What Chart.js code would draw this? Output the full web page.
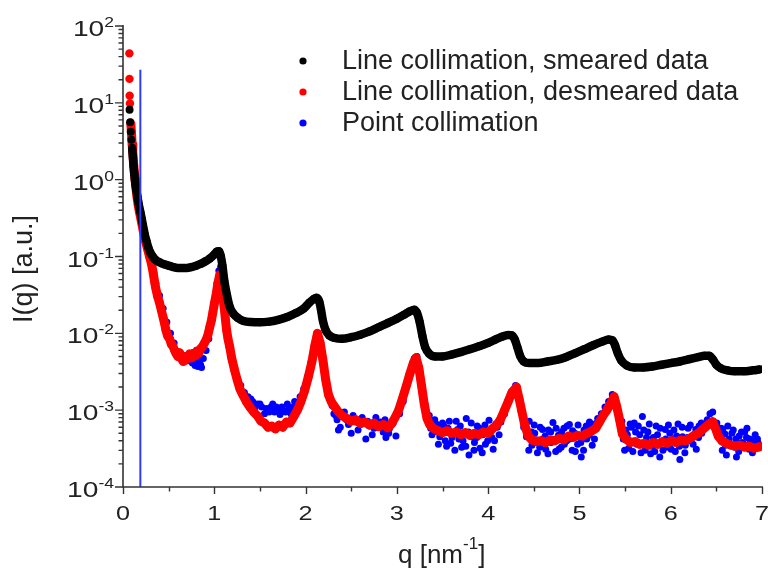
<!DOCTYPE html>
<html>
<head>
<meta charset="utf-8">
<title>SAXS collimation comparison</title>
<script src="https://cdn.jsdelivr.net/npm/chart.js@4.4.1/dist/chart.umd.min.js"></script>
<style>
  html, body { margin: 0; padding: 0; background: #fff; }
  canvas { display: block; }
</style>
</head>
<body>
<canvas id="saxs" width="768" height="575"></canvas>
<script>
// q [1/nm], I(q) [a.u.]
const smeared = [
  [0.072, 8.1], [0.078, 5.6], [0.085, 4.2], [0.092, 3.3], [0.100, 2.6], [0.108, 2.0],
  [0.116, 1.5], [0.125, 1.15], [0.135, 0.90], [0.147, 0.72], [0.160, 0.58], [0.175, 0.46],
  [0.19, 0.38], [0.205, 0.31], [0.22, 0.25], [0.24, 0.19], [0.26, 0.155], [0.28, 0.128],
  [0.30, 0.112], [0.325, 0.100], [0.35, 0.092], [0.40, 0.084], [0.45, 0.079], [0.50, 0.076],
  [0.55, 0.073], [0.60, 0.071], [0.65, 0.071], [0.70, 0.071], [0.75, 0.073], [0.80, 0.076],
  [0.85, 0.080], [0.90, 0.086], [0.95, 0.094], [1.00, 0.106], [1.03, 0.116], [1.05, 0.117],
  [1.07, 0.102], [1.09, 0.075], [1.11, 0.048], [1.14, 0.031], [1.17, 0.022], [1.21, 0.018],
  [1.26, 0.0158], [1.32, 0.0145], [1.40, 0.014], [1.50, 0.0139], [1.60, 0.0142], [1.70, 0.0150],
  [1.80, 0.0163], [1.90, 0.0185], [1.98, 0.021], [2.04, 0.025], [2.09, 0.028], [2.12, 0.029],
  [2.15, 0.026], [2.17, 0.020], [2.19, 0.0145], [2.22, 0.0110], [2.26, 0.0094], [2.32, 0.0087],
  [2.40, 0.0085], [2.50, 0.0089], [2.60, 0.0096], [2.70, 0.0106], [2.80, 0.0120], [2.90, 0.0136],
  [3.00, 0.0155], [3.08, 0.0175], [3.14, 0.0193], [3.19, 0.0203], [3.22, 0.0185], [3.25, 0.014],
  [3.28, 0.0092], [3.31, 0.0066], [3.35, 0.0055], [3.42, 0.0050], [3.50, 0.0050], [3.60, 0.0053],
  [3.70, 0.0057], [3.80, 0.0062], [3.90, 0.0068], [4.00, 0.0075], [4.08, 0.0083], [4.15, 0.0090],
  [4.22, 0.0095], [4.26, 0.0094], [4.29, 0.0084], [4.32, 0.0066], [4.35, 0.0051], [4.39, 0.0043],
  [4.45, 0.0041], [4.55, 0.0041], [4.65, 0.0043], [4.75, 0.0045], [4.85, 0.0049], [4.95, 0.0055],
  [5.05, 0.0062], [5.15, 0.0070], [5.25, 0.0078], [5.32, 0.0083], [5.36, 0.0081], [5.39, 0.0070],
  [5.42, 0.0055], [5.46, 0.0044], [5.52, 0.0038], [5.60, 0.0036], [5.70, 0.0036], [5.80, 0.0037],
  [5.90, 0.0039], [6.00, 0.0041], [6.10, 0.0043], [6.20, 0.0046], [6.30, 0.0049], [6.37, 0.0051],
  [6.42, 0.0051], [6.46, 0.0046], [6.50, 0.0039], [6.55, 0.0035], [6.62, 0.0033], [6.70, 0.0032],
  [6.80, 0.0032], [6.90, 0.0033], [6.98, 0.0034]
];

const desmeared = [
  [0.070, 44], [0.071, 20.5], [0.073, 12.4], [0.076, 9.8], [0.085, 5.5], [0.092, 4.2],
  [0.100, 2.9], [0.107, 2.3], [0.115, 1.7], [0.123, 1.3], [0.132, 1.0], [0.142, 0.78],
  [0.153, 0.60], [0.165, 0.48], [0.18, 0.38], [0.20, 0.29], [0.22, 0.22], [0.237, 0.175],
  [0.255, 0.145], [0.273, 0.12], [0.29, 0.10], [0.31, 0.082], [0.33, 0.062], [0.346, 0.047],
  [0.36, 0.038], [0.38, 0.030], [0.40, 0.025], [0.42, 0.020], [0.44, 0.016], [0.455, 0.0135],
  [0.47, 0.011], [0.49, 0.0092], [0.51, 0.0085], [0.53, 0.0072], [0.547, 0.0068], [0.565, 0.0060],
  [0.58, 0.0055], [0.60, 0.0050], [0.62, 0.0056], [0.64, 0.0047], [0.66, 0.0043], [0.675, 0.0050],
  [0.69, 0.0045], [0.71, 0.0049], [0.73, 0.0054], [0.75, 0.0048], [0.77, 0.0055], [0.79, 0.0051],
  [0.81, 0.0059], [0.83, 0.0055], [0.85, 0.0063], [0.87, 0.0067], [0.89, 0.0074], [0.91, 0.0082],
  [0.93, 0.0095], [0.95, 0.012], [0.97, 0.015], [0.985, 0.019], [1.00, 0.024], [1.02, 0.032],
  [1.04, 0.045], [1.06, 0.058], [1.075, 0.050], [1.09, 0.036], [1.105, 0.024], [1.12, 0.016],
  [1.135, 0.011], [1.15, 0.0085], [1.17, 0.0066], [1.19, 0.0048], [1.22, 0.0034], [1.25, 0.0025],
  [1.28, 0.0019], [1.31, 0.0016], [1.35, 0.0013], [1.39, 0.0011], [1.43, 0.00095], [1.47, 0.00085],
  [1.51, 0.00072], [1.55, 0.00068], [1.59, 0.00060], [1.63, 0.00062], [1.67, 0.00057], [1.71, 0.00064],
  [1.75, 0.00060], [1.79, 0.00070], [1.83, 0.00068], [1.87, 0.00082], [1.91, 0.0010], [1.95, 0.0013],
  [1.99, 0.0018], [2.03, 0.0027], [2.07, 0.0043], [2.10, 0.0068], [2.13, 0.0100], [2.16, 0.0075],
  [2.19, 0.0045], [2.22, 0.0025], [2.25, 0.0016], [2.28, 0.0013], [2.32, 0.0011], [2.36, 0.00095],
  [2.40, 0.00085], [2.45, 0.00078], [2.50, 0.00072], [2.55, 0.00075], [2.60, 0.00067], [2.65, 0.00070],
  [2.70, 0.00064], [2.75, 0.00068], [2.80, 0.00061], [2.85, 0.00065], [2.90, 0.00059], [2.94, 0.00066],
  [2.98, 0.00080], [3.02, 0.0010], [3.06, 0.0014], [3.10, 0.0020], [3.14, 0.0029], [3.18, 0.0041],
  [3.21, 0.0048], [3.24, 0.0036], [3.27, 0.0021], [3.30, 0.0012], [3.33, 0.00078], [3.36, 0.00065],
  [3.40, 0.00058], [3.45, 0.00054], [3.50, 0.00051], [3.55, 0.00054], [3.60, 0.00050], [3.65, 0.00052],
  [3.70, 0.00048], [3.75, 0.00051], [3.80, 0.00047], [3.85, 0.00050], [3.90, 0.00048], [3.95, 0.00052],
  [4.00, 0.00050], [4.05, 0.00058], [4.10, 0.00065], [4.14, 0.00078], [4.18, 0.0010], [4.22, 0.0013],
  [4.26, 0.0017], [4.31, 0.0020], [4.34, 0.0014], [4.37, 0.00095], [4.40, 0.00065], [4.44, 0.00046],
  [4.48, 0.00041], [4.53, 0.00039], [4.58, 0.00040], [4.63, 0.00038], [4.68, 0.00041], [4.73, 0.00040],
  [4.78, 0.00043], [4.83, 0.00041], [4.88, 0.00046], [4.93, 0.00044], [4.98, 0.00047], [5.03, 0.00046],
  [5.08, 0.00050], [5.13, 0.00053], [5.18, 0.00058], [5.22, 0.00070], [5.26, 0.00085], [5.30, 0.0010],
  [5.34, 0.0012], [5.38, 0.0015], [5.41, 0.0011], [5.44, 0.00075], [5.47, 0.00049], [5.51, 0.00042],
  [5.56, 0.00038], [5.61, 0.00039], [5.66, 0.00036], [5.71, 0.00037], [5.76, 0.00035], [5.81, 0.00038],
  [5.86, 0.00036], [5.91, 0.00039], [5.96, 0.00037], [6.01, 0.00040], [6.06, 0.00038], [6.11, 0.00041],
  [6.16, 0.00040], [6.21, 0.00043], [6.26, 0.00047], [6.30, 0.00050], [6.34, 0.00055], [6.38, 0.00060],
  [6.42, 0.00066], [6.46, 0.00071], [6.49, 0.00058], [6.52, 0.00046], [6.56, 0.00040], [6.61, 0.00037],
  [6.66, 0.00035], [6.71, 0.00034], [6.76, 0.00035], [6.81, 0.00033], [6.86, 0.00034], [6.91, 0.00032],
  [6.96, 0.00033], [6.99, 0.00034]
];

const pointColl = [
  [0.20, 0.29], [0.24, 0.17], [0.28, 0.11], [0.32, 0.070], [0.36, 0.045], [0.40, 0.031],
  [0.44, 0.021], [0.48, 0.014], [0.52, 0.010], [0.56, 0.0075], [0.60, 0.0058], [0.64, 0.0050],
  [0.68, 0.0046], [0.72, 0.0044], [0.76, 0.0041], [0.78, 0.0043], [0.79, 0.0038], [0.80, 0.0040],
  [0.82, 0.0037], [0.83, 0.0042], [0.84, 0.0045], [0.85, 0.0039], [0.86, 0.0036], [0.88, 0.0047],
  [0.91, 0.0060], [0.94, 0.0085], [0.97, 0.014], [1.00, 0.026], [1.03, 0.045],
  [1.05, 0.065], [1.07, 0.074], [1.09, 0.050], [1.10, 0.030], [1.12, 0.018], [1.14, 0.010],
  [1.16, 0.0068], [1.19, 0.0045], [1.22, 0.0032], [1.25, 0.0026], [1.29, 0.0021], [1.33, 0.0017],
  [1.37, 0.0015], [1.40, 0.0014], [1.42, 0.0013], [1.45, 0.0011], [1.47, 0.0012], [1.50, 0.0012],
  [1.52, 0.0011], [1.55, 0.0009], [1.57, 0.00105], [1.60, 0.00095], [1.62, 0.0011], [1.64, 0.0012],
  [1.66, 0.00095], [1.68, 0.0011], [1.70, 0.0010], [1.72, 0.00088], [1.74, 0.0011], [1.76, 0.0010],
  [1.78, 0.00095], [1.80, 0.0012], [1.82, 0.00105], [1.84, 0.0009], [1.86, 0.0011], [1.88, 0.0013],
  [1.90, 0.0012], [1.94, 0.0015], [1.98, 0.0019], [2.02, 0.0027], [2.06, 0.0042], [2.10, 0.0068],
  [2.13, 0.0098], [2.16, 0.0072], [2.19, 0.0042], [2.22, 0.0024], [2.25, 0.0016], [2.29, 0.00115],
  [2.31, 0.0009], [2.33, 0.00085], [2.345, 0.00075], [2.36, 0.00055], [2.38, 0.0006], [2.40, 0.00090],
  [2.425, 0.00095], [2.45, 0.00075], [2.47, 0.00065], [2.50, 0.00050], [2.52, 0.00085], [2.55, 0.00070],
  [2.575, 0.00055], [2.60, 0.00065], [2.62, 0.0008], [2.66, 0.00042], [2.68, 0.00072], [2.70, 0.00062],
  [2.73, 0.00048], [2.75, 0.00058], [2.77, 0.0008], [2.80, 0.00060], [2.82, 0.0007], [2.85, 0.00052],
  [2.87, 0.00075], [2.88, 0.00044], [2.91, 0.0005], [2.92, 0.00058], [2.95, 0.00072], [2.96, 0.00068],
  [2.99, 0.00046], [3.03, 0.00090], [3.07, 0.0013],
  [3.11, 0.0021], [3.15, 0.0033], [3.19, 0.0047], [3.22, 0.0050], [3.25, 0.0034], [3.28, 0.0019],
  [3.31, 0.0011], [3.34, 0.00072], [3.355, 0.00085], [3.37, 0.00058], [3.385, 0.00048], [3.40, 0.00052],
  [3.415, 0.00075], [3.44, 0.00065], [3.455, 0.00036], [3.47, 0.00045], [3.485, 0.00058], [3.50, 0.00068],
  [3.515, 0.00062], [3.53, 0.00040], [3.545, 0.00034], [3.56, 0.00058], [3.575, 0.00072], [3.59, 0.00037],
  [3.605, 0.00044], [3.62, 0.00050], [3.635, 0.0003], [3.65, 0.00072], [3.665, 0.00056], [3.68, 0.00042],
  [3.695, 0.00062], [3.71, 0.00033], [3.725, 0.0004], [3.74, 0.00050], [3.755, 0.00034], [3.76, 0.00078],
  [3.785, 0.00052], [3.79, 0.00026], [3.815, 0.00068], [3.82, 0.00045], [3.845, 0.0003], [3.85, 0.00038],
  [3.875, 0.00044], [3.88, 0.00062], [3.905, 0.00058], [3.91, 0.00032], [3.935, 0.00028], [3.94, 0.00048],
  [3.965, 0.00064], [3.97, 0.00036], [3.995, 0.0004], [4.01, 0.00074], [4.025, 0.00052], [4.04, 0.00044],
  [4.055, 0.00031], [4.07, 0.00040], [4.085, 0.00066], [4.10, 0.00060], [4.12, 0.00048], [4.14, 0.00070],
  [4.18, 0.00090], [4.22, 0.0013], [4.26, 0.0017], [4.30, 0.0021], [4.33, 0.0016], [4.36, 0.0010],
  [4.39, 0.00060], [4.415, 0.00058], [4.42, 0.00045], [4.445, 0.0003], [4.45, 0.00072], [4.475, 0.00052],
  [4.48, 0.00035], [4.505, 0.00064], [4.51, 0.00050], [4.535, 0.00041], [4.54, 0.00028], [4.565, 0.00033],
  [4.57, 0.00060], [4.595, 0.00056], [4.60, 0.00042], [4.625, 0.00046], [4.63, 0.00031], [4.655, 0.00027],
  [4.66, 0.00055], [4.685, 0.00052], [4.69, 0.00038], [4.71, 0.00069], [4.715, 0.0004], [4.74, 0.00029],
  [4.745, 0.00058], [4.77, 0.00047], [4.775, 0.00031], [4.80, 0.00033], [4.805, 0.00052], [4.83, 0.00058],
  [4.835, 0.00036], [4.86, 0.00040], [4.865, 0.00062], [4.89, 0.00065], [4.895, 0.00042], [4.92, 0.00030],
  [4.925, 0.00054], [4.95, 0.00050], [4.955, 0.00029], [4.98, 0.00036], [4.985, 0.00064], [5.015, 0.00038],
  [5.02, 0.000245], [5.045, 0.0003], [5.05, 0.00055], [5.075, 0.00062], [5.08, 0.00042], [5.105, 0.00047],
  [5.11, 0.00070], [5.135, 0.00066], [5.14, 0.00035], [5.165, 0.00042], [5.17, 0.00060], [5.19, 0.00068],
  [5.20, 0.00078], [5.24, 0.00090], [5.28, 0.0011], [5.32, 0.0013], [5.36, 0.0016],
  [5.39, 0.0014], [5.42, 0.00090], [5.45, 0.00060], [5.465, 0.00072], [5.48, 0.00042], [5.495, 0.0003],
  [5.51, 0.00055], [5.525, 0.00048], [5.54, 0.00032], [5.555, 0.00066], [5.57, 0.00060], [5.585, 0.00029],
  [5.60, 0.00068], [5.615, 0.00052], [5.63, 0.00036], [5.645, 0.00062], [5.66, 0.00048], [5.675, 0.00028],
  [5.69, 0.00083], [5.705, 0.00055], [5.72, 0.00030], [5.735, 0.00044], [5.75, 0.00052], [5.765, 0.00066],
  [5.78, 0.00027], [5.795, 0.00034], [5.81, 0.00044], [5.825, 0.00029], [5.84, 0.00062], [5.855, 0.00048],
  [5.88, 0.000245], [5.885, 0.00058], [5.91, 0.00038], [5.915, 0.0003], [5.94, 0.00056], [5.945, 0.00042],
  [5.97, 0.00033], [5.975, 0.00064], [5.99, 0.00050], [6.005, 0.00031], [6.02, 0.00042], [6.035, 0.00055],
  [6.05, 0.00029], [6.065, 0.00046], [6.08, 0.00066], [6.095, 0.00034], [6.10, 0.000228], [6.125, 0.0006],
  [6.13, 0.00045], [6.155, 0.00028], [6.16, 0.00035], [6.185, 0.00044], [6.19, 0.00058], [6.215, 0.00064],
  [6.22, 0.00040], [6.245, 0.00036], [6.25, 0.00048], [6.275, 0.00056], [6.28, 0.00031], [6.305, 0.00044],
  [6.31, 0.00062], [6.335, 0.00068], [6.34, 0.00050], [6.37, 0.00065], [6.40, 0.00075], [6.43, 0.00090],
  [6.46, 0.00095], [6.49, 0.00060], [6.505, 0.00068], [6.52, 0.00045], [6.535, 0.00052], [6.55, 0.00058],
  [6.565, 0.0003], [6.57, 0.00057], [6.595, 0.00049], [6.60, 0.00035], [6.61, 0.00026], [6.625, 0.00062],
  [6.64, 0.00042], [6.655, 0.00036], [6.67, 0.00050], [6.685, 0.00055], [6.70, 0.00033], [6.715, 0.00042],
  [6.72, 0.000245], [6.745, 0.00029], [6.75, 0.00046], [6.775, 0.00052], [6.78, 0.00038], [6.805, 0.00036],
  [6.81, 0.00052], [6.83, 0.00044], [6.835, 0.00058], [6.86, 0.00031], [6.865, 0.00042], [6.89, 0.00040],
  [6.895, 0.00028], [6.92, 0.00036], [6.925, 0.00048], [6.95, 0.00042], [6.955, 0.00038], [6.98, 0.00034]
];

// beam stop edge of the point-collimation run
const beamStop = [[0.19, 1e-4], [0.19, 27]];

const xTicks = [0, 1, 2, 3, 4, 5, 6, 7];
const yExponents = [-4, -3, -2, -1, 0, 1, 2];

const FONT = "'Liberation Sans', Arial, Helvetica, sans-serif";
const TXT = '#222';

const toXY = arr => arr.map(([q, i]) => ({ x: q, y: i }));

// draws text stretched along x around its anchor
function wideText(ctx, str, x, y, sx) {
  ctx.save();
  ctx.translate(x, y);
  ctx.scale(sx, 1);
  ctx.fillText(str, 0, 0);
  ctx.restore();
}

const originAxes = {
  id: 'originAxes',
  afterDatasetsDraw(chart) {
    const { ctx, chartArea: a, scales: { x, y } } = chart;
    ctx.save();
    ctx.strokeStyle = '#333';
    ctx.lineWidth = 1.6;
    ctx.beginPath();
    ctx.moveTo(a.left, a.top - 1);
    ctx.lineTo(a.left, a.bottom);
    ctx.lineTo(a.right + 1, a.bottom);
    ctx.stroke();

    // x ticks: majors at integers, minors halfway
    ctx.lineWidth = 1.4;
    ctx.beginPath();
    for (let v = 0; v <= 7; v += 0.5) {
      const px = Math.round(x.getPixelForValue(v)) + 0.5;
      const len = Number.isInteger(v) ? 7 : 4.5;
      ctx.moveTo(px, a.bottom);
      ctx.lineTo(px, a.bottom + len);
    }
    // y ticks: decades plus 2..9 minors
    yExponents.forEach(e => {
      const py = y.getPixelForValue(Math.pow(10, e));
      ctx.moveTo(a.left - 8, py);
      ctx.lineTo(a.left, py);
      if (e < 2) {
        for (let k = 2; k <= 9; k++) {
          const pm = y.getPixelForValue(k * Math.pow(10, e));
          ctx.moveTo(a.left - 4.5, pm);
          ctx.lineTo(a.left, pm);
        }
      }
    });
    ctx.stroke();

    ctx.fillStyle = TXT;
    ctx.textBaseline = 'alphabetic';

    // x tick labels
    ctx.font = `21px ${FONT}`;
    ctx.textAlign = 'center';
    xTicks.forEach(v => wideText(ctx, String(v), x.getPixelForValue(v), a.bottom + 33, 1.2));

    // y tick labels as 10 with a raised exponent
    ctx.textAlign = 'right';
    yExponents.forEach(e => {
      const py = y.getPixelForValue(Math.pow(10, e));
      const right = a.left - 9;
      ctx.font = `14px ${FONT}`;
      const sup = String(e);
      const supW = ctx.measureText(sup).width * 1.25;
      wideText(ctx, sup, right, py + 1, 1.25);
      ctx.font = `22px ${FONT}`;
      wideText(ctx, '10', right - supW, py + 10, 1.28);
    });

    // x axis title q [nm^-1]
    ctx.textAlign = 'left';
    let tx = 398;
    const ty = 563;
    ctx.font = `26px ${FONT}`;
    ctx.fillText('q [nm', tx, ty);
    tx += ctx.measureText('q [nm').width;
    ctx.font = `17px ${FONT}`;
    ctx.fillText('-1', tx, ty - 14);
    tx += ctx.measureText('-1').width;
    ctx.font = `26px ${FONT}`;
    ctx.fillText(']', tx, ty);

    // y axis title
    ctx.save();
    ctx.translate(25, 269);
    ctx.rotate(-Math.PI / 2);
    ctx.textAlign = 'center';
    ctx.textBaseline = 'middle';
    ctx.font = `27px ${FONT}`;
    ctx.fillText('I(q) [a.u.]', 0, 0);
    ctx.restore();

    // legend, top right inside the plot
    const sets = chart.data.datasets.filter(d => d.inLegend);
    ctx.textBaseline = 'middle';
    ctx.textAlign = 'left';
    ctx.font = `27px ${FONT}`;
    sets.forEach((d, i) => {
      const ly = 61 + i * 31;
      ctx.fillStyle = d.pointBackgroundColor;
      ctx.beginPath();
      ctx.arc(303, ly, 3.6, 0, Math.PI * 2);
      ctx.fill();
      ctx.fillStyle = TXT;
      ctx.fillText(d.label, 342, ly + 1);
    });
    ctx.restore();
  }
};

new Chart(document.getElementById('saxs'), {
  type: 'scatter',
  data: {
    datasets: [
      {
        label: 'beam stop',
        type: 'line',
        data: toXY(beamStop),
        borderColor: '#2f3bff',
        borderWidth: 2,
        pointRadius: 0,
        order: 0,
        inLegend: false
      },
      {
        label: 'Line collimation, smeared data',
        data: toXY(smeared),
        showLine: true,
        cubicInterpolationMode: 'monotone',
        borderColor: '#000',
        borderWidth: 8.5,
        borderJoinStyle: 'round',
        pointBackgroundColor: '#000',
        pointBorderWidth: 0,
        pointRadius: 4,
        segment: { borderColor: c => c.p0.parsed.x < 0.095 ? 'rgba(0,0,0,0)' : undefined },
        order: 1,
        inLegend: true
      },
      {
        label: 'Line collimation, desmeared data',
        data: toXY(desmeared),
        showLine: true,
        borderColor: '#ff0000',
        borderWidth: 9,
        borderJoinStyle: 'round',
        pointBackgroundColor: '#ff0000',
        pointBorderWidth: 0,
        pointRadius: 4.2,
        segment: { borderColor: c => c.p0.parsed.x < 0.08 ? 'rgba(0,0,0,0)' : undefined },
        order: 2,
        inLegend: true
      },
      {
        label: 'Point collimation',
        data: toXY(pointColl),
        showLine: false,
        pointBackgroundColor: '#0000ff',
        pointBorderWidth: 0,
        pointRadius: 3.5,
        order: 3,
        inLegend: true
      }
    ]
  },
  options: {
    responsive: false,
    animation: false,
    events: [],
    layout: { padding: { left: 123, right: 6, top: 26, bottom: 88 } },
    plugins: { legend: { display: false }, tooltip: { enabled: false } },
    scales: {
      x: { type: 'linear', min: 0, max: 7, display: false },
      y: { type: 'logarithmic', min: 1e-4, max: 100, display: false }
    }
  },
  plugins: [originAxes]
});
</script>
</body>
</html>
